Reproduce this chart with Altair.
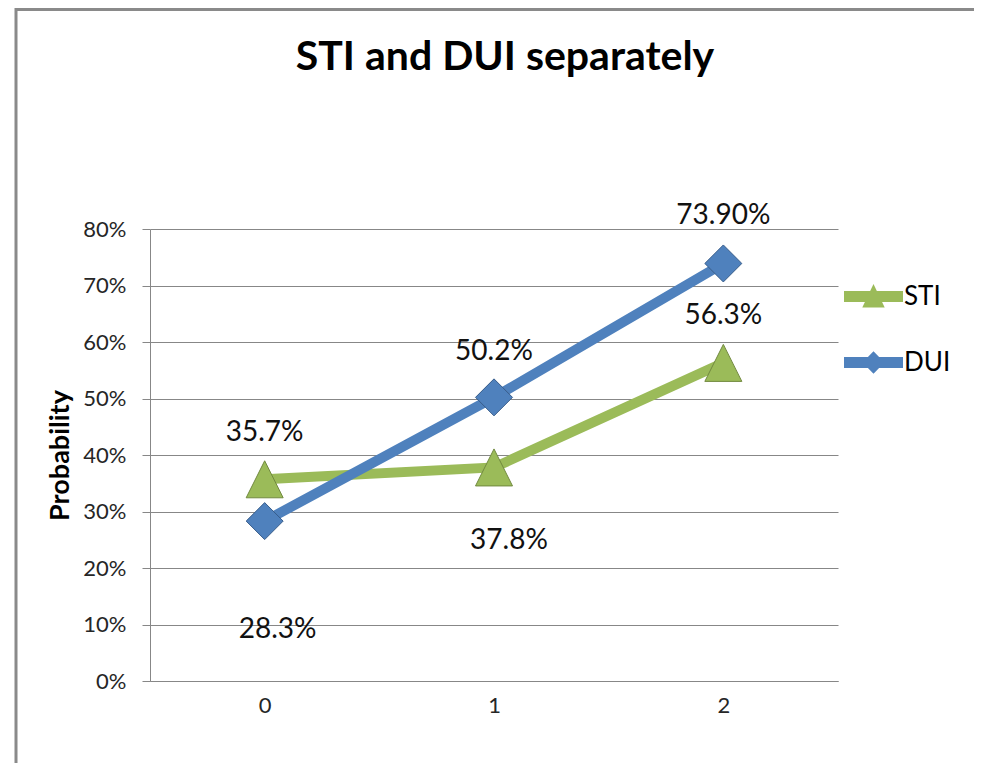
import altair as alt
import pandas as pd

# ---- data ----
categories = ["0", "1", "2"]
series_names = ["STI", "DUI"]
sti_values = [0.357, 0.378, 0.563]
dui_values = [0.283, 0.502, 0.739]
sti_labels = ["35.7%", "37.8%", "56.3%"]
dui_labels = ["28.3%", "50.2%", "73.90%"]
y_ticks = [0, 0.1, 0.2, 0.3, 0.4, 0.5, 0.6, 0.7, 0.8]

rows = []
for c, v, l in zip(categories, sti_values, sti_labels):
    rows.append({"category": c, "series": "STI", "value": v, "label": l})
for c, v, l in zip(categories, dui_values, dui_labels):
    rows.append({"category": c, "series": "DUI", "value": v, "label": l})
df = pd.DataFrame(rows)

# ---- style ----
GREEN = "#9BBB59"
GREEN_DARK = "#71893F"
BLUE = "#4F81BD"
BLUE_DARK = "#385D8A"
GRID = "#878787"
FONT = "Lato"

# label offsets (style) keyed by series/category
label_offsets = {
    ("STI", "0"): (0, -46), ("STI", "1"): (15, 74), ("STI", "2"): (0, -47),
    ("DUI", "0"): (13, 109), ("DUI", "1"): (0, -45), ("DUI", "2"): (0, -47),
}

STI_LEGEND_PATH = ("M-1,-0.19L1,-0.19L1,0.19L-1,0.19Z "
                   "M0,-0.42L0.38,0.37L-0.38,0.37Z")
DUI_LEGEND_PATH = ("M-1,-0.19L1,-0.19L1,0.19L-1,0.19Z "
                   "M0,-0.38L0.37,0L0,0.38L-0.37,0Z")
TRIANGLE = "M0,-1L1,1L-1,1Z"

x_enc = alt.X("category:O", sort=categories,
              scale=alt.Scale(type="point", padding=0.5),
              axis=alt.Axis(title=None, labelAngle=0, ticks=False, labelPadding=14,
                            labelFont=FONT, labelFontSize=22, labelColor="#262626",
                            domainColor=GRID, grid=False))
y_enc = alt.Y("value:Q", scale=alt.Scale(domain=[0, 0.8], nice=False, zero=True),
              axis=alt.Axis(values=y_ticks, format=".0%", title="Probability",
                            labelFont=FONT, labelFontSize=22, labelColor="#262626",
                            labelPadding=16, tickSize=8, tickColor=GRID,
                            domainColor=GRID, gridColor=GRID, grid=True,
                            titleFont=FONT, titleFontSize=27, titleFontWeight="bold",
                            titleColor="#000000", titleAngle=270, titleX=-90, titleY=226,
                            titleAlign="center", titleBaseline="middle"))

base = alt.Chart(df)

frame = alt.Chart(pd.DataFrame({"f": [0]})).mark_rect(
    fill="white", fillOpacity=0, stroke="#8a8a8a", strokeWidth=3
).encode(x=alt.value(-134), x2=alt.value(1000), y=alt.value(-219.5), y2=alt.value(800))

sti_line = base.transform_filter(alt.datum.series == "STI").mark_line(
    color=GREEN, strokeWidth=10).encode(x=x_enc, y=y_enc)
dui_line = base.transform_filter(alt.datum.series == "DUI").mark_line(
    color=BLUE, strokeWidth=10).encode(x=x_enc, y=y_enc)
sti_pts = base.transform_filter(alt.datum.series == "STI").mark_point(
    shape=TRIANGLE, size=1369, filled=True, fill=GREEN, stroke=GREEN_DARK,
    strokeWidth=1, opacity=1).encode(x=x_enc, y=y_enc)
dui_pts = base.transform_filter(alt.datum.series == "DUI").mark_point(
    shape="diamond", size=1369, filled=True, fill=BLUE, stroke=BLUE_DARK,
    strokeWidth=1, opacity=1).encode(x=x_enc, y=y_enc)

texts = []
for (s, c), (dx, dy) in label_offsets.items():
    texts.append(
        base.transform_filter((alt.datum.series == s) & (alt.datum.category == c))
        .mark_text(font=FONT, fontSize=28, color="#111111", dx=dx, dy=dy,
                   baseline="middle", align="center")
        .encode(x=x_enc, y=y_enc, text="label:N")
    )

leg = alt.Legend(title=None, orient="none", legendX=694, legendY=38,
                 symbolSize=3481, symbolStrokeWidth=0,
                 labelFont=FONT, labelFontSize=26, labelColor="#000000",
                 labelOffset=1, rowPadding=23, padding=0, symbolOpacity=1)

legend_layer = base.transform_filter("false").mark_point(filled=True, opacity=1).encode(
    x=x_enc, y=y_enc,
    color=alt.Color("series:N", scale=alt.Scale(domain=series_names, range=[GREEN, BLUE]),
                    legend=leg),
    shape=alt.Shape("series:N", scale=alt.Scale(domain=series_names,
                                                range=[STI_LEGEND_PATH, DUI_LEGEND_PATH]),
                    legend=leg),
)

chart = alt.layer(frame, sti_line, dui_line, sti_pts, dui_pts, *texts, legend_layer).properties(
    width=688, height=452,
    title=alt.TitleParams("STI and DUI separately", font=FONT, fontSize=41,
                          fontWeight="bold", color="#000000", anchor="middle",
                          dx=11, offset=-103, baseline="alphabetic"),
    autosize=alt.AutoSizeParams(type="none"),
    padding={"left": 142, "top": 221, "right": 136, "bottom": 82},
    background="white",
).configure_view(stroke=None)

chart.save("out.html", embed_options={"renderer": "svg", "actions": False})
